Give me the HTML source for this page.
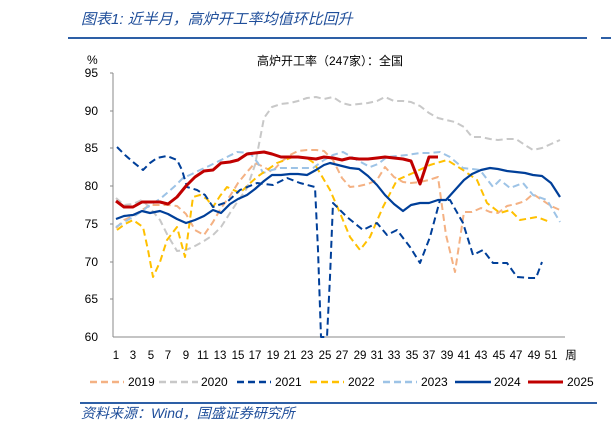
<!DOCTYPE html>
<html><head><meta charset="utf-8"><style>
body{margin:0;background:#fff;width:611px;height:433px;overflow:hidden}
svg{display:block}
text{font-family:"Liberation Sans","Noto Sans CJK SC",sans-serif;fill:#000}
.t{font-style:italic;fill:#1f4e9a}
</style></head><body>
<svg width="611" height="433" viewBox="0 0 611 433">
<text class="t" x="81" y="24" font-size="15">图表1:  近半月，高炉开工率均值环比回升</text>
<line x1="68" y1="38" x2="587" y2="38" stroke="#2d5fa6" stroke-width="2"/>
<line x1="601" y1="38" x2="611" y2="38" stroke="#2d5fa6" stroke-width="2"/>
<text x="330" y="65" font-size="12" text-anchor="middle">高炉开工率（247家）：全国</text>
<text x="87" y="64" font-size="12">%</text>
<g font-size="12" text-anchor="end">
<text x="98" y="77">95</text><text x="98" y="115">90</text><text x="98" y="152">85</text><text x="98" y="190">80</text><text x="98" y="228">75</text><text x="98" y="266">70</text><text x="98" y="303">65</text><text x="98" y="341">60</text>
</g>
<g stroke="#888" stroke-width="1">
<line x1="113" y1="73" x2="113" y2="337"/><line x1="113" y1="337" x2="565" y2="337"/>
<line x1="110" y1="73" x2="113" y2="73"/><line x1="110" y1="111" x2="113" y2="111"/><line x1="110" y1="148" x2="113" y2="148"/><line x1="110" y1="186" x2="113" y2="186"/><line x1="110" y1="224" x2="113" y2="224"/><line x1="110" y1="262" x2="113" y2="262"/><line x1="110" y1="299" x2="113" y2="299"/>
</g>
<g font-size="11.5" text-anchor="middle">
<text x="116" y="359">1</text><text x="133" y="359">3</text><text x="151" y="359">5</text><text x="168" y="359">7</text><text x="186" y="359">9</text><text x="203" y="359">11</text><text x="220" y="359">13</text><text x="238" y="359">15</text><text x="255" y="359">17</text><text x="273" y="359">19</text><text x="290" y="359">21</text><text x="307" y="359">23</text><text x="325" y="359">25</text><text x="342" y="359">27</text><text x="360" y="359">29</text><text x="377" y="359">31</text><text x="394" y="359">33</text><text x="412" y="359">35</text><text x="429" y="359">37</text><text x="447" y="359">39</text><text x="464" y="359">41</text><text x="481" y="359">43</text><text x="499" y="359">45</text><text x="516" y="359">47</text><text x="534" y="359">49</text><text x="551" y="359">51</text><text x="571" y="359">周</text>
</g>
<g fill="none" stroke-linejoin="round">
<!-- 2020 -->
<polyline stroke="#c8c8c8" stroke-width="2" stroke-dasharray="7,4" points="116,198 124,205 133,204 142,200 150,208 160,220 168,236 177,251 186,250 195,246 204,241 213,235 221,227 230,213 238,201 247,188 255,165 264,118 272,107 281,104 290,103 298,101 307,98 316,97 324,99 333,97 342,103 350,105 359,104 368,103 377,101 385,97 394,101 403,101 411,102 420,106 429,113 438,118 446,120 455,122 464,127 472,137 481,137 490,139 498,140 507,139 516,139 525,145 533,150 542,148 551,144 560,140"/>
<!-- 2019 -->
<polyline stroke="#f4b183" stroke-width="2" stroke-dasharray="7,4" points="116,228 124,220 133,216 142,210 150,205 160,205 168,205 177,206 186,214 195,230 204,235 213,222 221,208 230,196 238,183 247,172 255,163 264,167 272,172 281,162 290,155 298,151 307,150 316,150 324,151 333,160 342,178 350,187 359,186 368,184 377,180 385,167 394,177 403,182 411,183 420,182 429,180 438,177 446,235 455,272 464,212 472,212 481,208 490,212 498,213 507,206 516,204 525,201 533,194 542,200 551,206 560,210"/>
<!-- 2023 -->
<polyline stroke="#9dc3e6" stroke-width="2" stroke-dasharray="7,4" points="116,227 124,222 133,217 142,211 150,205 160,199 167,193 175,186 183,178 192,174 200,170 209,166 217,162 227,157 237,152 250,153 258,163 263,173 272,170 280,168 298,168 313,168 324,160 333,155 343,152 357,160 370,167 378,164 387,157 397,156 407,155 420,153 430,153 440,152 450,157 463,168 472,169 480,170 493,187 500,180 510,188 523,183 533,195 547,200 560,222"/>
<!-- 2022 -->
<polyline stroke="#ffc000" stroke-width="2" stroke-dasharray="7,4" points="117,230 125,224 133,220 143,227 148,250 153,277 160,262 167,240 177,227 185,257 193,197 200,195 207,199 213,207 220,196 227,187 240,193 248,185 257,177 267,170 277,163 293,157 307,158 314,163 320,173 330,190 340,213 350,237 360,250 370,237 383,207 397,180 413,173 430,165 447,160 463,170 477,180 487,203 500,213 510,210 520,220 537,217 550,222"/>
<!-- 2021 -->
<polyline stroke="#003f99" stroke-width="2" stroke-dasharray="7,4" points="117,147 125,155 133,162 143,170 150,163 157,158 167,156 177,160 182,170 187,187 197,190 205,195 213,207 227,202 240,190 257,183 273,185 287,178 300,183 315,187 318,250 321,337 327,337 330,277 333,203 347,217 363,230 377,223 387,235 397,230 410,247 420,263 430,237 440,200 450,200 463,223 473,255 483,250 493,263 507,263 517,277 530,278 536,278 542,262"/>
<!-- 2024 -->
<polyline stroke="#003f99" stroke-width="2.2" points="116,219 124,216 133,215 142,211 150,213 160,211 168,214 177,219 186,223 195,220 204,216 213,210 221,213 230,204 238,199 247,195 255,189 264,181 272,175 281,175 290,174 298,174 307,175 316,170 324,165 330,163 342,166 350,168 359,169 368,176 377,185 385,195 394,204 403,211 411,205 420,203 429,203 438,200 446,200 455,190 464,180 472,174 481,170 490,168 498,169 507,171 516,172 525,173 533,175 542,176 551,183 560,197"/>
<!-- 2025 -->
<polyline stroke="#c00000" stroke-width="3" points="116,201 124,207 133,207 142,202 150,202 160,202 168,204 177,197 186,186 195,177 204,171 213,170 221,163 230,162 238,160 247,154 255,153 264,152 272,154 281,157 290,157 298,157 307,158 316,159 324,157 333,158 342,160 350,158 359,159 368,159 377,158 385,157 394,158 403,159 411,161 420,184 429,157 438,157"/>
</g>
<g stroke-width="2.5">
<line x1="90" y1="382" x2="124" y2="382" stroke="#f4b183" stroke-dasharray="7,4"/>
<line x1="159" y1="382" x2="198" y2="382" stroke="#c8c8c8" stroke-dasharray="7,4"/>
<line x1="237" y1="382" x2="271" y2="382" stroke="#003f99" stroke-dasharray="7,4"/>
<line x1="310" y1="382" x2="344" y2="382" stroke="#ffc000" stroke-dasharray="7,4"/>
<line x1="383" y1="382" x2="417" y2="382" stroke="#9dc3e6" stroke-dasharray="7,4"/>
<line x1="455" y1="382" x2="491" y2="382" stroke="#003f99"/>
<line x1="528" y1="382" x2="563" y2="382" stroke="#c00000" stroke-width="3"/>
</g>
<g font-size="12">
<text x="128" y="386">2019</text><text x="201" y="386">2020</text><text x="275" y="386">2021</text><text x="348" y="386">2022</text><text x="421" y="386">2023</text><text x="494" y="386">2024</text><text x="567" y="386">2025</text>
</g>
<line x1="80" y1="403" x2="597" y2="403" stroke="#2d5fa6" stroke-width="2"/>
<text class="t" x="81" y="418" font-size="14">资料来源：Wind，国盛证券研究所</text>
</svg>
</body></html>
